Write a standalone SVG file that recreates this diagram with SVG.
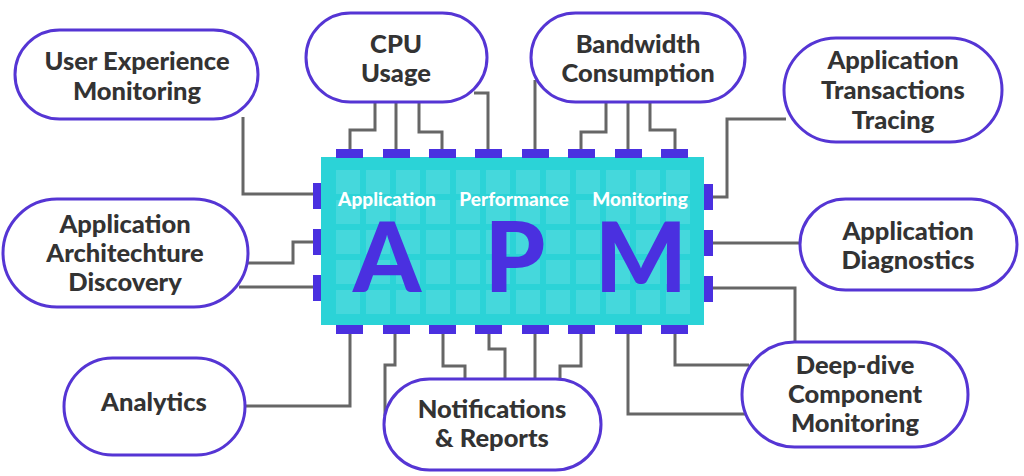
<svg xmlns="http://www.w3.org/2000/svg" width="1024" height="476" viewBox="0 0 1024 476">
<defs>
<style>
.node rect{fill:#ffffff;stroke:#5535d4;stroke-width:3}
.node text{font-family:Lato,"Noto Sans","Liberation Sans",sans-serif;font-weight:900;font-size:25.5px;fill:#333333;text-anchor:middle}
.wire{fill:none;stroke:#666666;stroke-width:3}
.pad{fill:#4a30e0}
.cell{fill:#ffffff;fill-opacity:0.12}
.lbl{font-family:Lato,"Noto Sans","Liberation Sans",sans-serif;font-weight:900;font-size:19px;fill:#ffffff;text-anchor:middle}
.big{font-family:Lato,"Noto Sans","Liberation Sans",sans-serif;font-weight:900;font-size:97px;fill:#4a30e0;text-anchor:middle}
</style>
<pattern id="grid" x="336" y="170" width="30" height="30" patternUnits="userSpaceOnUse">
<rect class="cell" x="0" y="0" width="24" height="24"/>
</pattern>
</defs>
<rect width="1024" height="476" fill="#ffffff"/>
<g id="connectors">
<path class="wire" d="M243,117 V194 H313"/>
<path class="wire" d="M313,242 H293 V263 H247"/>
<path class="wire" d="M239,287 H313"/>
<path class="wire" d="M350,149 V130 H375 V101"/>
<path class="wire" d="M396,149 V101"/>
<path class="wire" d="M442,149 V132 H419 V101"/>
<path class="wire" d="M488,149 V93 H474"/>
<path class="wire" d="M535,149 V80"/>
<path class="wire" d="M581,149 V132 H606 V101"/>
<path class="wire" d="M628,149 V101"/>
<path class="wire" d="M675,149 V130 H650 V101"/>
<path class="wire" d="M713,197 H727 V119 H786"/>
<path class="wire" d="M713,243 H801"/>
<path class="wire" d="M713,288 H795 V343"/>
<path class="wire" d="M350,334 V406 H244"/>
<path class="wire" d="M395,334 V365 H385 V416"/>
<path class="wire" d="M443,334 V366 H465 V381"/>
<path class="wire" d="M489,334 V349 H505 V380"/>
<path class="wire" d="M535,334 V380"/>
<path class="wire" d="M581,334 V366 H560 V381"/>
<path class="wire" d="M628,334 V414 H745"/>
<path class="wire" d="M675,334 V365 H749"/>
</g>
<g id="chip">
<rect x="321" y="157" width="383" height="168" fill="#2bd3d7"/>
<rect x="336" y="170" width="354" height="144" fill="url(#grid)"/>
<g class="pads">
<rect class="pad" x="336" y="149" width="27" height="9"/>
<rect class="pad" x="383" y="149" width="27" height="9"/>
<rect class="pad" x="429" y="149" width="27" height="9"/>
<rect class="pad" x="475" y="149" width="27" height="9"/>
<rect class="pad" x="522" y="149" width="27" height="9"/>
<rect class="pad" x="568" y="149" width="27" height="9"/>
<rect class="pad" x="615" y="149" width="27" height="9"/>
<rect class="pad" x="661" y="149" width="27" height="9"/>
<rect class="pad" x="336" y="325" width="27" height="9"/>
<rect class="pad" x="383" y="325" width="27" height="9"/>
<rect class="pad" x="429" y="325" width="27" height="9"/>
<rect class="pad" x="475" y="325" width="27" height="9"/>
<rect class="pad" x="522" y="325" width="27" height="9"/>
<rect class="pad" x="568" y="325" width="27" height="9"/>
<rect class="pad" x="615" y="325" width="27" height="9"/>
<rect class="pad" x="661" y="325" width="27" height="9"/>
<rect class="pad" x="313" y="183" width="8" height="26"/>
<rect class="pad" x="313" y="229" width="8" height="26"/>
<rect class="pad" x="313" y="275" width="8" height="26"/>
<rect class="pad" x="704" y="184" width="9" height="26"/>
<rect class="pad" x="704" y="230" width="9" height="26"/>
<rect class="pad" x="704" y="276" width="9" height="26"/>
</g>
<text class="lbl" x="387" y="206">Application</text>
<text class="lbl" x="514" y="206">Performance</text>
<text class="lbl" x="640" y="206">Monitoring</text>
<text class="big" x="387" y="292">A</text>
<text class="big" x="515" y="292">P</text>
<text class="big" x="641" y="292">M</text>
</g>
<g id="n-uem" class="node"><rect x="15" y="30" width="243" height="89" rx="44.5"/><text x="137" y="70">User Experience</text><text x="137" y="100">Monitoring</text></g>
<g id="n-cpu" class="node"><rect x="306" y="13" width="181" height="89" rx="44.5"/><text x="396" y="53">CPU</text><text x="396" y="82">Usage</text></g>
<g id="n-bw" class="node"><rect x="531" y="13" width="214" height="89" rx="44.5"/><text x="638" y="53">Bandwidth</text><text x="638" y="82">Consumption</text></g>
<g id="n-att" class="node"><rect x="784" y="38" width="218" height="104" rx="52"/><text x="893" y="69">Application</text><text x="893" y="99">Transactions</text><text x="893" y="129">Tracing</text></g>
<g id="n-ad" class="node"><rect x="800" y="199" width="217" height="91" rx="45.5"/><text x="908" y="240">Application</text><text x="908" y="269">Diagnostics</text></g>
<g id="n-ddc" class="node"><rect x="742" y="342" width="226" height="105" rx="52.5"/><text x="855" y="374">Deep-dive</text><text x="855" y="403">Component</text><text x="855" y="432">Monitoring</text></g>
<g id="n-nr" class="node"><rect x="384" y="379" width="217" height="91" rx="45.5"/><text x="492" y="418">Notifications</text><text x="492" y="447">&amp; Reports</text></g>
<g id="n-an" class="node"><rect x="64" y="358" width="181" height="97" rx="48.5"/><text x="154" y="411">Analytics</text></g>
<g id="n-aad" class="node"><rect x="3" y="199" width="245" height="108" rx="54"/><text x="125" y="233">Application</text><text x="125" y="262">Architechture</text><text x="125" y="291">Discovery</text></g>
</svg>
